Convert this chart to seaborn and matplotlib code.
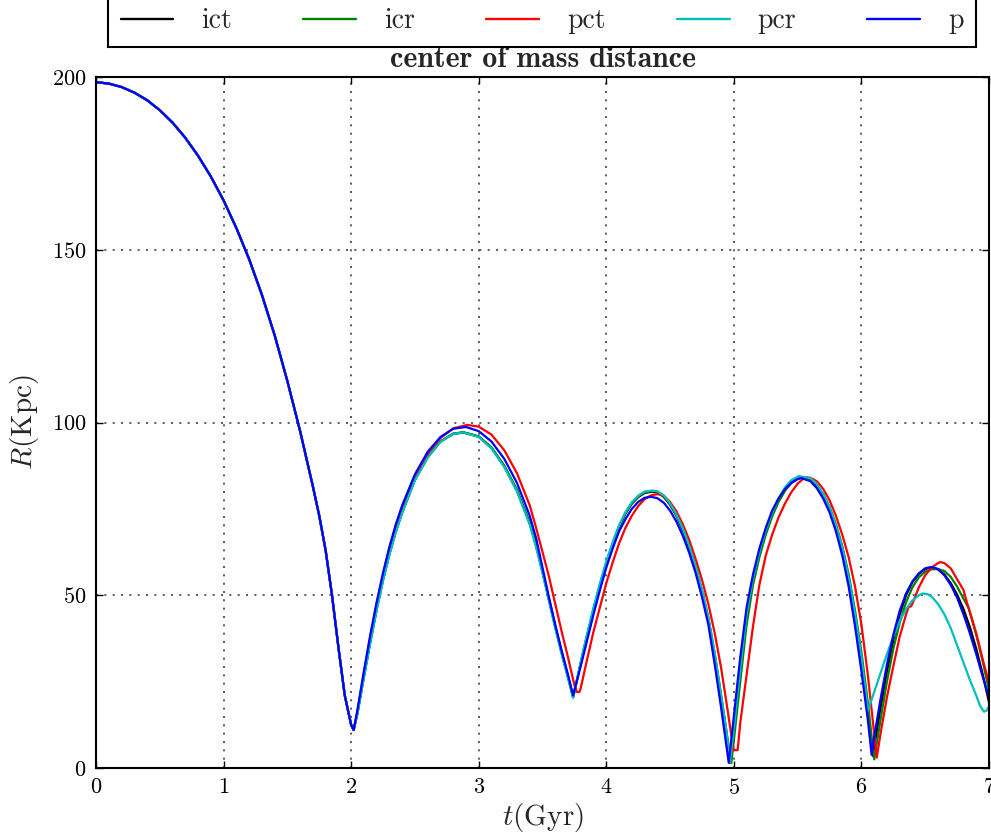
import matplotlib
matplotlib.use("Agg")
import matplotlib.pyplot as plt
from matplotlib.lines import Line2D
import seaborn as sns
import pandas as pd

# ---------------- data ----------------
# common first infall, identical for every run
t_fall = [0.0, 0.1, 0.2, 0.3, 0.4, 0.5, 0.6, 0.7, 0.8, 0.9, 1.0, 1.1, 1.2, 1.3,
          1.4, 1.5, 1.6, 1.7, 1.75, 1.8, 1.85, 1.9, 1.95, 2.0]
r_fall = [198.5, 198.1, 197.1, 195.5, 193.3, 190.4, 186.8, 182.4, 177.2, 171.2,
          164.3, 156.3, 147.3, 137.0, 125.3, 112.0, 97.5, 81.5, 73.0, 63.0, 50.0,
          35.0, 21.0, 12.5]

ict_pts = [(2.02, 11), (2.05, 16), (2.1, 26.5), (2.15, 36.5), (2.2, 46), (2.25, 54.5),
           (2.3, 62), (2.35, 68.5), (2.4, 74), (2.5, 83.5), (2.6, 90), (2.7, 94.5),
           (2.8, 96.7), (2.88, 97.1), (3.0, 95.9), (3.1, 92.7), (3.2, 87.4), (3.3, 80.3),
           (3.4, 70.8), (3.45, 64.3), (3.5, 56.8), (3.55, 48.8), (3.6, 40.8), (3.65, 33.3),
           (3.7, 26.3), (3.74, 20.5),
           (3.8, 30.3), (3.85, 38.3), (3.9, 45.8), (3.95, 52.8), (4.0, 59.3), (4.05, 64.8),
           (4.1, 69.8), (4.15, 73.6), (4.2, 76.5), (4.25, 78.4), (4.3, 79.6), (4.36, 80),
           (4.4, 79.8), (4.45, 78.5), (4.5, 76.2), (4.55, 73), (4.6, 68.8), (4.65, 63.8),
           (4.7, 57.8), (4.75, 51), (4.8, 43), (4.85, 32.5), (4.9, 20.5), (4.94, 10.5),
           (4.97, 1.5),
           (5.0, 11), (5.05, 28), (5.1, 44), (5.15, 54.5), (5.2, 62), (5.25, 68.2),
           (5.3, 73.3), (5.35, 77.3), (5.4, 80.4), (5.45, 82.6), (5.5, 83.8), (5.52, 84),
           (5.6, 83.3), (5.65, 81.6), (5.7, 78.8), (5.75, 75), (5.8, 69.8), (5.85, 63.2),
           (5.9, 54.5), (5.95, 43.5), (6.0, 31), (6.05, 17), (6.09, 3.5),
           (6.1, 6), (6.15, 17.5), (6.2, 28), (6.25, 37), (6.3, 44.5), (6.35, 50),
           (6.4, 53.8), (6.45, 56.2), (6.5, 57.6), (6.55, 58), (6.6, 57.5), (6.65, 56),
           (6.7, 53.5), (6.75, 50.2), (6.8, 46), (6.85, 40.8), (6.9, 34.5), (6.95, 27.2),
           (7.0, 19)]

icr_pts = [(2.02, 11), (2.05, 16), (2.1, 26.5), (2.15, 36.5), (2.2, 46), (2.25, 54.5),
           (2.3, 62), (2.35, 68.5), (2.4, 74), (2.5, 83.5), (2.6, 90), (2.7, 94.5),
           (2.8, 96.8), (2.88, 97.2), (3.0, 96), (3.1, 92.8), (3.2, 87.5), (3.3, 80.5),
           (3.4, 71), (3.45, 64.5), (3.5, 57), (3.55, 49), (3.6, 41), (3.65, 33.5),
           (3.7, 26.5), (3.74, 20.5),
           (3.8, 30.5), (3.85, 38.5), (3.9, 46), (3.95, 53), (4.0, 59.5), (4.05, 65),
           (4.1, 70), (4.15, 73.8), (4.2, 76.7), (4.25, 78.6), (4.3, 79.8), (4.36, 80.2),
           (4.4, 80), (4.45, 78.8), (4.5, 76.5), (4.55, 73.3), (4.6, 69.2), (4.65, 64.2),
           (4.7, 58.3), (4.75, 51.5), (4.8, 43.5), (4.85, 33), (4.9, 21), (4.94, 11),
           (4.98, 1.4),
           (5.0, 8), (5.05, 25), (5.1, 41.5), (5.15, 53), (5.2, 61), (5.25, 67.5),
           (5.3, 72.8), (5.35, 77), (5.4, 80.2), (5.45, 82.5), (5.5, 83.9), (5.52, 84.2),
           (5.6, 83.6), (5.65, 82), (5.7, 79.3), (5.75, 75.6), (5.8, 70.6), (5.85, 64.2),
           (5.9, 56), (5.95, 45.5), (6.0, 33.5), (6.05, 19), (6.1, 2.5),
           (6.15, 14), (6.2, 25), (6.25, 34.5), (6.3, 42), (6.35, 48), (6.4, 52.3),
           (6.45, 55.2), (6.5, 56.8), (6.55, 57.5), (6.6, 57.6), (6.65, 57), (6.7, 55.3),
           (6.75, 52.5), (6.8, 49), (6.84, 46.3), (6.9, 38.5), (6.95, 31), (7.0, 22.5)]

pct_pts = [(2.02, 11), (2.05, 16.5), (2.1, 27.5), (2.15, 38), (2.2, 47.5), (2.25, 56),
           (2.3, 63.5), (2.35, 70), (2.4, 75.5), (2.5, 84.5), (2.6, 91), (2.7, 95.5),
           (2.8, 98.3), (2.91, 99.3), (3.0, 98.8), (3.1, 96.5), (3.2, 92), (3.3, 85.3),
           (3.4, 76), (3.45, 69.5), (3.5, 62.5), (3.55, 55.5), (3.6, 47.5), (3.65, 39.5),
           (3.7, 32), (3.75, 24), (3.77, 22), (3.79, 22),
           (3.8, 23.2), (3.85, 31.5), (3.9, 39.5), (3.95, 46.5), (4.0, 53.5), (4.05, 59.5),
           (4.1, 65), (4.15, 69.5), (4.2, 73), (4.25, 75.8), (4.3, 77.8), (4.35, 78.9),
           (4.4, 79.3), (4.45, 78.8), (4.5, 77), (4.55, 74.3), (4.6, 70.5), (4.65, 66),
           (4.7, 60.5), (4.75, 54.5), (4.8, 47.5), (4.85, 39), (4.9, 29), (4.95, 17),
           (4.99, 7), (5.0, 5.2), (5.03, 5.2),
           (5.05, 13), (5.1, 27), (5.15, 41), (5.2, 53), (5.25, 61.5), (5.3, 67.5),
           (5.35, 72.5), (5.4, 76.5), (5.45, 79.8), (5.5, 82.3), (5.56, 84.2), (5.6, 84),
           (5.65, 83), (5.7, 80.8), (5.75, 77.5), (5.8, 73), (5.85, 67.5), (5.9, 61),
           (5.95, 52.5), (6.0, 41.5), (6.05, 27), (6.1, 10), (6.12, 3),
           (6.15, 10), (6.2, 20.5), (6.25, 29.5), (6.3, 38), (6.35, 44.5), (6.37, 46.6),
           (6.39, 46.8), (6.41, 48.5), (6.45, 52.3), (6.5, 55.8), (6.55, 58), (6.6, 59.3),
           (6.62, 59.6), (6.65, 59.3), (6.7, 57.8), (6.76, 54), (6.8, 51.5), (6.83, 47.5),
           (6.86, 44), (6.9, 39), (6.95, 31.5), (7.0, 24.6)]

pcr_pts = [(2.02, 11), (2.05, 15.8), (2.1, 26.2), (2.15, 36.2), (2.2, 45.7), (2.25, 54.2),
           (2.3, 61.7), (2.35, 68.2), (2.4, 73.8), (2.5, 83.3), (2.6, 89.8), (2.7, 94.4),
           (2.8, 96.7), (2.88, 97.1), (3.0, 95.8), (3.1, 92.5), (3.2, 87.1), (3.3, 80),
           (3.4, 70.4), (3.45, 63.9), (3.5, 56.4), (3.55, 48.5), (3.6, 40.5), (3.65, 33),
           (3.7, 26), (3.74, 20.3),
           (3.8, 30.8), (3.85, 38.8), (3.9, 46.4), (3.95, 53.4), (4.0, 59.8), (4.05, 65.3),
           (4.1, 70.2), (4.15, 74), (4.2, 76.9), (4.25, 78.8), (4.3, 80), (4.36, 80.3),
           (4.4, 80.1), (4.45, 78.9), (4.5, 76.6), (4.55, 73.4), (4.6, 69.3), (4.65, 64.3),
           (4.7, 58.4), (4.75, 51.6), (4.8, 43.6), (4.85, 33.2), (4.9, 21.2), (4.94, 11.2),
           (4.97, 1.5),
           (5.0, 11.5), (5.05, 28.5), (5.1, 44.5), (5.15, 55), (5.2, 62.5), (5.25, 68.8),
           (5.3, 73.9), (5.35, 78), (5.4, 81.2), (5.45, 83.3), (5.51, 84.5), (5.6, 83.9),
           (5.65, 82.2), (5.7, 79.3), (5.75, 75.4), (5.8, 70.2), (5.85, 63.7), (5.9, 55.2),
           (5.95, 44.5), (6.0, 32), (6.04, 20), (6.05, 16.5),
           (6.1, 22), (6.15, 27.5), (6.2, 33), (6.25, 38), (6.3, 42.5), (6.35, 46),
           (6.4, 48.5), (6.45, 50), (6.48, 50.5), (6.52, 50.3), (6.55, 49.6), (6.6, 47.5),
           (6.65, 44.5), (6.7, 40.5), (6.75, 35.5), (6.8, 30.5), (6.85, 25.5), (6.9, 21),
           (6.93, 18), (6.96, 16.3), (6.98, 16.6), (7.0, 17.8)]

p_pts = [(2.02, 11), (2.05, 17), (2.1, 28), (2.15, 38.5), (2.2, 48), (2.25, 56.5),
         (2.3, 64), (2.35, 70.5), (2.4, 76), (2.5, 85), (2.6, 91.5), (2.7, 95.8),
         (2.8, 98.2), (2.9, 98.7), (3.0, 97.5), (3.1, 94.5), (3.2, 89.5), (3.3, 82.5),
         (3.4, 73), (3.45, 66.5), (3.5, 58), (3.55, 49.5), (3.6, 41.5), (3.65, 34),
         (3.7, 27), (3.74, 21),
         (3.8, 29.5), (3.85, 37), (3.9, 44.5), (3.95, 51.5), (4.0, 58), (4.05, 63.5),
         (4.1, 68.5), (4.15, 72), (4.2, 75), (4.25, 77), (4.3, 78.2), (4.35, 78.5),
         (4.4, 78.1), (4.45, 76.8), (4.5, 74.5), (4.55, 71.3), (4.6, 67.2), (4.65, 62.3),
         (4.7, 56.5), (4.75, 49.5), (4.8, 41.5), (4.85, 30), (4.9, 17.5), (4.93, 9.5),
         (4.96, 1.5),
         (5.0, 15), (5.05, 32), (5.1, 46.5), (5.15, 56), (5.2, 63.5), (5.25, 69.5),
         (5.3, 74.5), (5.35, 78), (5.4, 80.7), (5.45, 82.5), (5.5, 83.6), (5.53, 83.9),
         (5.6, 83), (5.65, 81), (5.7, 78), (5.75, 74), (5.8, 68.5), (5.85, 61.5),
         (5.9, 52.5), (5.95, 41), (6.0, 28), (6.05, 14), (6.08, 3.8),
         (6.1, 9), (6.15, 20), (6.2, 30), (6.25, 38.5), (6.3, 45.5), (6.35, 50.5),
         (6.4, 54), (6.45, 56.3), (6.5, 57.8), (6.55, 58.2), (6.6, 57.6), (6.65, 55.8),
         (6.7, 53), (6.75, 49.3), (6.8, 44.5), (6.85, 39), (6.9, 33), (6.95, 26.5),
         (7.0, 20.5)]

series_names = ["ict", "icr", "pct", "pcr", "p"]
series_colors = ["#000000", "#008000", "#ff0000", "#00bfbf", "#0000ff"]
x_ticks = [0, 1, 2, 3, 4, 5, 6, 7]
y_ticks = [0, 50, 100, 150, 200]

# ---------------- build long-form table ----------------
rows = []
for name, pts in zip(series_names, [ict_pts, icr_pts, pct_pts, pcr_pts, p_pts]):
    for tt, rr in zip(t_fall, r_fall):
        rows.append((name, tt, rr))
    for tt, rr in pts:
        rows.append((name, tt, rr))
df = pd.DataFrame(rows, columns=["series", "t", "R"])

# ---------------- style ----------------
sns.set_style("white")
plt.rcParams.update({
    "font.family": ["cmr10", "DejaVu Serif"],
    "mathtext.fontset": "cm",
    "axes.formatter.use_mathtext": True,
    "axes.unicode_minus": False,
    "axes.edgecolor": "black",
    "axes.linewidth": 1.5,
    "xtick.direction": "in",
    "ytick.direction": "in",
    "xtick.top": True,
    "ytick.right": True,
    "xtick.bottom": True,
    "ytick.left": True,
    "xtick.color": "black",
    "ytick.color": "black",
})

fig = plt.figure(figsize=(9.91, 8.40), dpi=100)
ax = fig.add_axes([96 / 991, 1 - 768 / 840, (989 - 96) / 991, (768 - 77) / 840])

sns.lineplot(data=df, x="t", y="R", hue="series", hue_order=series_names,
             palette=dict(zip(series_names, series_colors)), sort=False,
             estimator=None, linewidth=1.6, legend=False, ax=ax)

ax.set_xlim(0, 7)
ax.set_ylim(0, 200)
ax.set_xticks(x_ticks)
ax.set_yticks(y_ticks)
ax.tick_params(axis="both", which="major", length=5, width=1, labelsize=16,
               pad=7, direction="in", top=True, right=True)
ax.grid(True, color="0.25", linestyle=(0, (1.2, 3.8)), linewidth=1.2)
ax.set_axisbelow(True)

ax.set_xlabel(r"$t(\mathrm{Gyr})$", fontsize=21, labelpad=2)
ax.set_ylabel(r"$R(\mathrm{Kpc})$", fontsize=21, labelpad=8)
ax.set_title("center of mass distance", fontsize=21.5, fontfamily="cmb10", pad=7)

handles = [Line2D([], [], color=c, lw=1.7) for c in series_colors]
leg = ax.legend(handles, series_names, loc="lower left",
                bbox_to_anchor=(108 / 991, 1 - 47 / 840, 868 / 991, 0.05),
                bbox_transform=fig.transFigure, ncol=5, mode="expand",
                borderaxespad=0, frameon=True, fancybox=False, framealpha=1,
                edgecolor="black", handlelength=1.9, handletextpad=1.0,
                prop={"family": "cmr10", "size": 20}, borderpad=0.45)
leg.get_frame().set_linewidth(1.5)

fig.savefig("out.png", dpi=100)
